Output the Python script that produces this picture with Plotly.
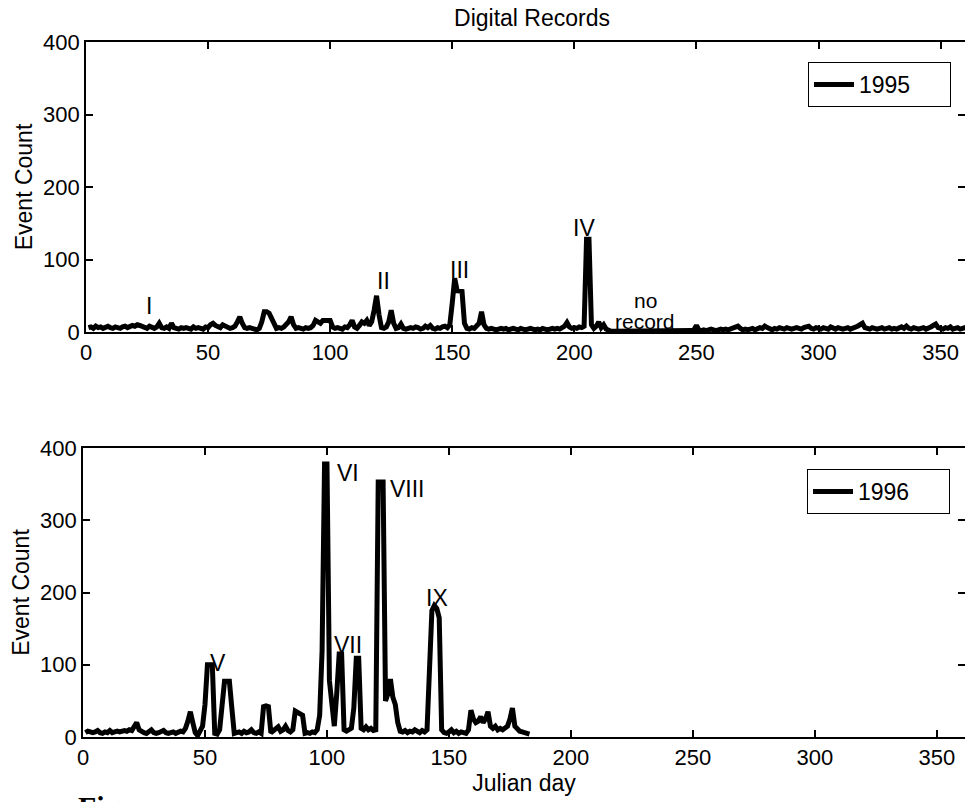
import plotly.graph_objects as go

# Daily event counts, one value per Julian day starting at day 1
counts_1995 = [
    6, 7, 5, 8, 6, 7, 5, 6, 8, 6,
    5, 7, 6, 5, 7, 8, 6, 7, 9, 8,
    10, 9, 7, 6, 5, 8, 6, 5, 7, 12,
    6, 5, 7, 5, 12, 6, 5, 4, 6, 5,
    6, 5, 4, 7, 5, 6, 5, 4, 7, 6,
    10, 12, 9, 7, 6, 10, 8, 7, 5, 6,
    8, 14, 21, 12, 6, 5, 6, 5, 4, 3,
    5, 14, 28, 28, 26, 18, 9, 5, 6, 5,
    7, 10, 14, 21, 10, 5, 6, 5, 4, 6,
    5, 6, 9, 16, 14, 12, 16, 16, 15, 16,
    7, 5, 6, 5, 4, 7, 6, 10, 16, 7,
    5, 9, 14, 12, 16, 9, 14, 30, 50, 24,
    6, 5, 7, 14, 30, 12, 5, 6, 11, 5,
    4, 5, 6, 5, 7, 6, 4, 5, 8, 6,
    9, 5, 4, 6, 5, 7, 8, 6, 10, 40,
    74, 57, 57, 56, 12, 5, 4, 6, 5, 8,
    12, 28, 10, 5, 4, 5, 4, 3, 4, 5,
    4, 5, 3, 4, 5, 4, 3, 5, 4, 3,
    4, 5, 4, 3, 4, 3, 5, 4, 3, 4,
    5, 4, 5, 4, 6, 8, 13, 7, 5, 6,
    5, 7, 6, 8, 128, 128, 10, 5, 8, 14,
    6, 10, 4, 2, 1, 1, 1, 1, 1, 1,
    1, 1, 1, 1, 1, 1, 1, 1, 1, 1,
    1, 1, 1, 1, 1, 1, 1, 1, 1, 1,
    1, 1, 1, 1, 1, 1, 1, 2, 3, 9,
    3, 2, 3, 2, 3, 4, 3, 2, 3, 4,
    3, 4, 3, 4, 5, 7, 8, 5, 3, 4,
    3, 4, 5, 3, 4, 6, 5, 8, 6, 4,
    3, 5, 4, 6, 5, 4, 6, 5, 4, 5,
    6, 5, 4, 6, 7, 8, 5, 4, 6, 5,
    4, 6, 5, 4, 7, 5, 4, 6, 5, 4,
    5, 6, 4, 5, 7, 8, 10, 12, 6, 5,
    4, 6, 5, 4, 5, 6, 4, 5, 6, 4,
    5, 4, 6, 7, 5, 8, 5, 4, 6, 5,
    4, 5, 6, 4, 5, 7, 9, 11, 6, 5,
    4, 6, 5, 7, 4, 5, 6, 4, 5, 6,
    5, 4, 6, 5, 4,
]

counts_1996 = [
    6, 8, 7, 6, 7, 9, 6, 5, 7, 6,
    9, 6, 7, 8, 7, 8, 9, 8, 10, 9,
    14, 20, 10, 7, 6, 5, 7, 10, 6, 5,
    6, 7, 9, 6, 5, 6, 7, 5, 6, 8,
    7, 12, 22, 35, 20, 6, 2, 8, 15, 45,
    100, 100, 100, 5, 4, 10, 45, 77, 77, 77,
    40, 5, 6, 7, 5, 8, 6, 7, 10, 6,
    5, 7, 5, 42, 43, 42, 6, 8, 10, 14,
    8, 10, 15, 9, 7, 10, 36, 34, 32, 30,
    5, 6, 5, 7, 6, 10, 30, 120, 378, 378,
    78, 40, 15, 60, 115, 115, 10, 8, 10, 12,
    40, 109, 109, 12, 10, 14, 10, 12, 9, 10,
    353, 353, 353, 50, 60, 80, 55, 45, 20, 8,
    7, 9, 6, 8, 7, 10, 8, 6, 9, 7,
    10, 90, 175, 182, 178, 165, 10, 6, 5, 7,
    10, 6, 8, 5, 7, 6, 5, 10, 37, 25,
    20, 22, 28, 20, 25, 35, 15, 12, 15, 10,
    12, 10, 12, 15, 25, 40, 15, 10, 8, 7,
    6, 5, 4,
]

days_1995 = list(range(1, len(counts_1995) + 1))
days_1996 = list(range(1, len(counts_1996) + 1))

x_ticks = [0, 50, 100, 150, 200, 250, 300, 350]
y_ticks = [0, 100, 200, 300, 400]

# Event labels: (text, day, count) placed in data coordinates
events_1995 = [("I", 26, 36), ("II", 122, 70), ("III", 153, 85), ("IV", 204, 143)]
events_1996 = [("V", 55.5, 102), ("VI", 108.5, 365), ("VII", 108.5, 128),
               ("VIII", 133, 343), ("IX", 145, 192)]

W, H = 965, 802
FONT = "Liberation Sans, Arial, Helvetica, sans-serif"

fig = go.Figure()
fig.add_trace(go.Scatter(x=days_1995, y=counts_1995, mode="lines", name="1995",
                         line=dict(color="black", width=5), xaxis="x", yaxis="y",
                         legend="legend"))
fig.add_trace(go.Scatter(x=days_1996, y=counts_1996, mode="lines", name="1996",
                         line=dict(color="black", width=5), xaxis="x2", yaxis="y2",
                         legend="legend2"))

axis_common = dict(showline=True, linecolor="black", linewidth=1.6, ticks="inside",
                   ticklen=7, tickwidth=1.6, tickcolor="black", mirror="ticks",
                   showgrid=False, zeroline=False,
                   tickfont=dict(family=FONT, size=22, color="black"))

legend_common = dict(xanchor="right", yanchor="top", bordercolor="black", borderwidth=1,
                     bgcolor="white", orientation="h", entrywidth=86,
                     entrywidthmode="pixels", itemwidth=40,
                     font=dict(family=FONT, size=23, color="black"))

fig.update_layout(
    width=W, height=H,
    margin=dict(l=0, r=0, t=0, b=0, autoexpand=False),
    paper_bgcolor="white", plot_bgcolor="white",
    font=dict(family=FONT, color="black"),
    title=dict(text="Digital Records", x=532 / W, y=1 - 18 / H, xanchor="center",
               yanchor="middle", font=dict(family=FONT, size=23, color="black")),
    xaxis=dict(domain=[86 / W, 1], range=[0, 360], tickvals=x_ticks, anchor="y",
               **axis_common),
    yaxis=dict(domain=[1 - 332 / H, 1 - 42 / H], range=[0, 400], tickvals=y_ticks,
               anchor="x", title=dict(text="Event Count", standoff=4,
                                      font=dict(family=FONT, size=23)),
               **axis_common),
    xaxis2=dict(domain=[83 / W, 1], range=[0, 361.5], tickvals=x_ticks, anchor="y2",
                title=dict(text="Julian day", standoff=2, font=dict(family=FONT, size=23)),
                **axis_common),
    yaxis2=dict(domain=[1 - 737 / H, 1 - 448 / H], range=[0, 400], tickvals=y_ticks,
                anchor="x2", title=dict(text="Event Count", standoff=4,
                                        font=dict(family=FONT, size=23)),
                **axis_common),
    legend=dict(x=951 / W, y=1 - 62 / H, **legend_common),
    legend2=dict(x=950 / W, y=1 - 469 / H, **legend_common),
    showlegend=True,
)

annotations = []
for text, d, c in events_1995:
    annotations.append(dict(text=text, x=d, y=c, xref="x", yref="y", showarrow=False,
                            font=dict(family=FONT, size=23, color="black")))
for text, d, c in events_1996:
    annotations.append(dict(text=text, x=d, y=c, xref="x2", yref="y2", showarrow=False,
                            font=dict(family=FONT, size=23, color="black")))
# "no record" marks the gap in the 1995 recording
annotations.append(dict(text="no", x=229, y=44, xref="x", yref="y", showarrow=False,
                        font=dict(family=FONT, size=21, color="black")))
annotations.append(dict(text="record", x=229, y=15, xref="x", yref="y", showarrow=False,
                        font=dict(family=FONT, size=21, color="black")))
# Start of the figure caption below the panels
annotations.append(dict(text="<b>Figure</b>", x=76 / W, y=1 - 788 / H, xref="paper",
                        yref="paper", xanchor="left", yanchor="top", showarrow=False,
                        font=dict(family="Liberation Serif, serif", size=30, color="black")))
fig.update_layout(annotations=annotations)

fig.write_html("out.html")
